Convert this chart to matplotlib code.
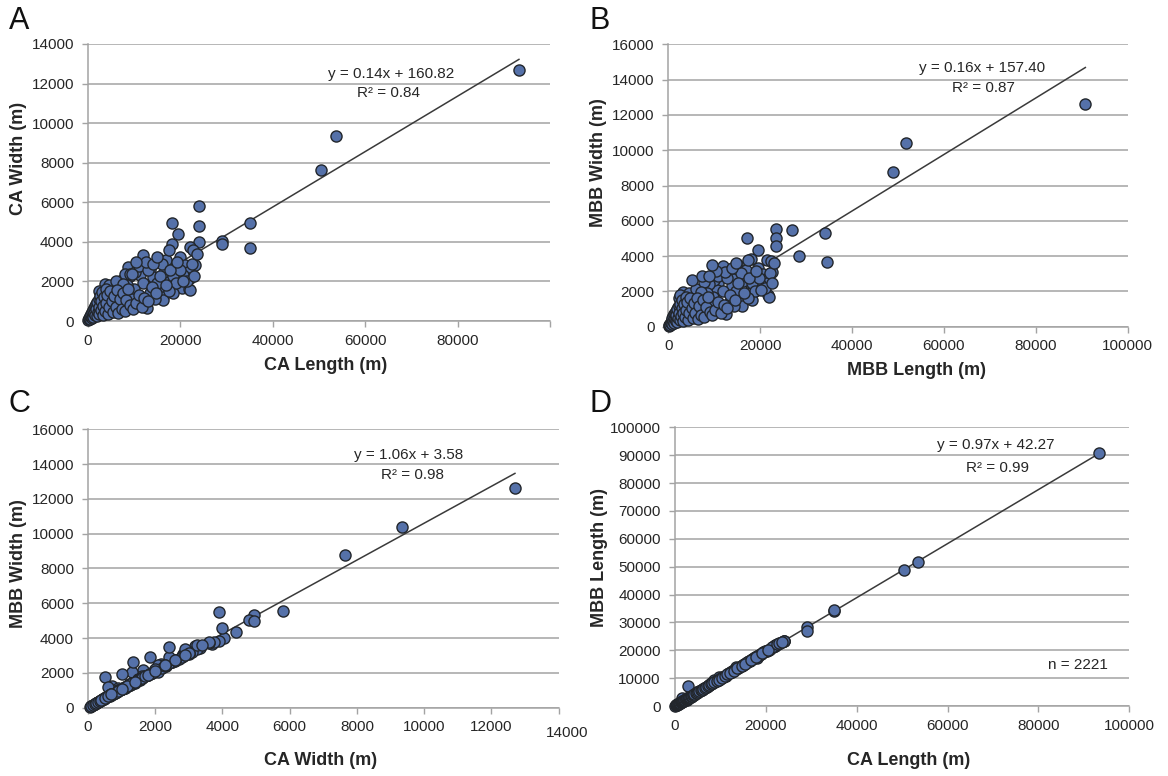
import matplotlib
matplotlib.use("Agg")
import matplotlib.pyplot as plt
from matplotlib.transforms import ScaledTranslation

plt.rcParams['font.family'] = ['Liberation Sans', 'DejaVu Sans']

# ---- data: one entry per feature (CA = convex area, MBB = minimum bounding box) ----
ca_length = [93300, 50500, 53600, 35000, 35000, 29000, 29000, 24100, 24000, 24000,
             18100, 19500, 18100,
             22080, 22800, 11840, 15220, 19900, 21000, 23160, 21700, 22080, 20280,
             21930, 17750, 15580, 13420, 11250, 8730, 7290, 3680, 6210, 9800, 13420,
             16300, 12340, 8010, 2600, 1880, 4760, 10170, 22080, 18460, 16300, 20630,
             7640, 4040, 12700, 19000, 17000, 14000, 16500, 12000, 10000, 9000, 7000,
             5500, 4500, 6000, 8000, 11000, 13000, 15000, 18500, 20000, 14500, 11000,
             9500, 8500, 6500, 5000, 3000, 2500, 3500, 16000, 12500, 10500, 21500,
             19000, 17500,
             2200, 3000, 5000, 7500, 9000, 9500, 14000, 15000, 17500, 1500,
             100, 200, 300, 400, 500, 600, 700, 800, 900, 1000, 1100, 1200, 1300,
             1400, 1500, 1600, 1700, 1800, 1900, 2000, 2100, 2300, 2400, 2500, 2600,
             2800, 2900, 3100, 3200, 3300, 3500, 3700, 3800, 4000, 4200, 4300, 4600,
             4800, 5200, 5400, 5700, 6000, 6300, 6600, 6900, 7300, 7600, 8000, 8300,
             8700, 9200, 9700, 10400, 11000, 11600, 12200, 13000, 13800, 14700,
             15500, 16800, 17800, 19300, 20500, 22500, 23000, 23500]
ca_width = [12700, 7650, 9350, 4950, 3700, 4050, 3900, 5800, 4800, 4000,
            4950, 4400, 3900,
            3755, 3590, 3336, 3170, 3250, 2830, 2830, 2490, 2160, 1650,
            1617, 2070, 1560, 2580, 2325, 2710, 2070, 1870, 1230, 1314, 1400,
            1230, 810, 725, 895, 472, 472, 2490, 1567, 1400, 1060, 2325,
            810, 470, 640, 2800, 3100, 2200, 2500, 1900, 1600, 2300, 1700,
            1500, 1800, 2000, 2400, 2800, 2600, 1900, 2300, 2600, 1100, 1000,
            1100, 1800, 900, 1100, 1300, 1500, 900, 2900, 3000, 3000, 2000,
            1900, 1500,
            500, 1000, 1350, 1850, 2400, 2400, 2900, 3250, 3600, 600,
            50, 80, 150, 100, 250, 200, 350, 150, 450, 300, 550, 200, 650,
            400, 750, 300, 850, 600, 250, 950, 450, 1100, 700, 350, 1250,
            550, 1000, 1450, 300, 750, 1200, 500, 1600, 900, 1300, 350, 700,
            1500, 1000, 450, 1250, 700, 1550, 400, 1100, 600, 1400, 500, 1050,
            1600, 800, 600, 900, 1300, 700, 1150, 1000, 1700, 1400,
            2300, 1800, 2600, 3000, 2000, 2900, 2300, 3400]
mbb_length = [90800, 48800, 51800, 34000, 34500, 28500, 27000, 23500, 23500, 23500,
              17200, 19500, 18000,
              21500, 22400, 11800, 15000, 19600, 20500, 22600, 21200, 21400, 19900,
              21700, 17700, 15500, 14100, 10800, 9400, 7230, 3220, 6100, 10500, 13400,
              16000, 12310, 8320, 2130, 1800, 4500, 10000, 21800, 18200, 16100, 20000,
              7500, 3960, 12500, 18800, 16800, 13800, 16300, 11800, 9800, 8800, 6900,
              5400, 4400, 5900, 7800, 10800, 12800, 14800, 18300, 19700, 14300, 10800,
              9300, 8300, 6300, 4900, 2900, 2400, 3400, 15800, 12300, 10300, 21000,
              18800, 17300,
              2500, 7000, 5100, 7400, 8800, 9400, 13800, 14800, 17300, 3000,
              100, 190, 290, 390, 480, 580, 680, 780, 870, 970, 1070, 1160, 1260,
              1350, 1450, 1550, 1650, 1750, 1850, 1950, 2050, 2250, 2350, 2420, 2550,
              2720, 2850, 3050, 3100, 3200, 3450, 3600, 3750, 3900, 4100, 4200, 4500,
              4700, 5100, 5300, 5600, 5850, 6200, 6450, 6750, 7150, 7450, 7850, 8150,
              8550, 9000, 9500, 10200, 10800, 11400, 12000, 12700, 13500, 14400,
              15200, 16500, 17500, 19000, 20100, 22100, 22600, 23000]
mbb_width = [12600, 8750, 10400, 5300, 3650, 4000, 5500, 5550, 5050, 4600,
             5000, 4350, 3850,
             3800, 3700, 3440, 3550, 3350, 3000, 3100, 2700, 2500, 2176,
             1800, 2460, 1620, 2690, 2450, 2800, 2080, 1983, 1300, 2080, 1420,
             1350, 850, 1230, 1133, 550, 520, 2650, 1700, 1500, 1150, 2400,
             900, 500, 700, 3000, 3200, 2300, 2600, 2000, 1700, 2400, 1800,
             1600, 1900, 2150, 2550, 2900, 2750, 2000, 2450, 2750, 1200, 1100,
             1150, 1900, 1000, 1200, 1400, 1650, 1000, 3050, 3100, 3150, 2200,
             2000, 1600,
             1780, 1940, 2640, 2900, 2900, 3500, 3350, 3600, 3800, 1200,
             60, 90, 160, 110, 270, 220, 380, 170, 480, 330, 590, 220, 700,
             430, 800, 330, 900, 650, 280, 1000, 490, 1150, 750, 380, 1300,
             600, 1060, 1520, 330, 800, 1260, 540, 1700, 960, 1380, 380, 760,
             1600, 1070, 490, 1330, 760, 1650, 440, 1180, 650, 1500, 550, 1130,
             1700, 860, 650, 970, 1400, 760, 1230, 1080, 1800, 1500,
             2450, 1900, 2750, 3150, 2100, 3050, 2450, 3600]

# panel texts and fitted trend lines (as printed on the chart)
panel_letters = ["A", "B", "C", "D"]
x_labels = ["CA Length (m)", "MBB Length (m)", "CA Width (m)", "CA Length (m)"]
y_labels = ["CA Width (m)", "MBB Width (m)", "MBB Width (m)", "MBB Length (m)"]
slopes = [0.14, 0.16, 1.06, 0.97]
intercepts = [160.82, 157.40, 3.58, 42.27]
r_squared = ["0.84", "0.87", "0.98", "0.99"]
n_text = "n = 2221"

x_ticks = [[0, 20000, 40000, 60000, 80000, 100000],
           [0, 20000, 40000, 60000, 80000, 100000],
           [0, 2000, 4000, 6000, 8000, 10000, 12000, 14000],
           [0, 20000, 40000, 60000, 80000, 100000]]
x_tick_labels = [["0", "20000", "40000", "60000", "80000", ""],
                 ["0", "20000", "40000", "60000", "80000", "100000"],
                 ["0", "2000", "4000", "6000", "8000", "10000", "12000", "14000"],
                 ["0", "20000", "40000", "60000", "80000", "100000"]]
y_ticks = [list(range(0, 14001, 2000)),
           list(range(0, 16001, 2000)),
           list(range(0, 16001, 2000)),
           list(range(0, 100001, 10000))]

panel_xy = [(ca_length, ca_width), (mbb_length, mbb_width),
            (ca_width, mbb_width), (ca_length, mbb_length)]

# ---- layout ----
fig = plt.figure(figsize=(11.68, 7.76), dpi=100)
axes_rects = [[0.0753, 0.5863, 0.3955, 0.3570],
              [0.5723, 0.5790, 0.3931, 0.3639],
              [0.0753, 0.0880, 0.4030, 0.3588],
              [0.5777, 0.0902, 0.3892, 0.3592]]
xlabel_pos = [(0.515, -0.162), (0.540, -0.155), (0.494, -0.188), (0.515, -0.194)]
ylabel_pos = [(-0.150, 0.588), (-0.152, 0.583), (-0.147, 0.518), (-0.166, 0.531)]
eq_pos = [((65700, 12500), (65000, 11530)),
          ((68200, 14640), (68700, 13500)),
          ((9540, 14520), (9650, 13375)),
          ((70700, 93660), (71100, 85290))]
letter_pos = [(9, 21), (589, 21), (9, 404), (589, 404)]

grid_col = "#a3a3a3"
text_col = "#262626"
face_col = "#5571a9"
edge_col = "#22262b"

for i in range(4):
    ax = fig.add_axes(axes_rects[i])
    xs, ys = panel_xy[i]
    ax.scatter(xs, ys, s=64, facecolor=face_col, edgecolor=edge_col,
               linewidth=1.0, zorder=3, clip_on=False)
    x0, x1 = 0, max(xs)
    ax.plot([x0, x1], [slopes[i] * x0 + intercepts[i], slopes[i] * x1 + intercepts[i]],
            color="#3a3a3a", lw=1.1, zorder=2)

    ax.set_xlim(x_ticks[i][0], x_ticks[i][-1])
    ax.set_ylim(y_ticks[i][0], y_ticks[i][-1])
    ax.set_xticks(x_ticks[i])
    ax.set_xticklabels(x_tick_labels[i])
    ax.set_yticks(y_ticks[i])
    ax.set_yticklabels([str(v) for v in y_ticks[i]])
    ax.grid(axis="y", color=grid_col, lw=1.1, zorder=0)
    ax.set_axisbelow(True)
    for s in ["top", "right"]:
        ax.spines[s].set_visible(False)
    for s in ["left", "bottom"]:
        ax.spines[s].set_color(grid_col)
        ax.spines[s].set_linewidth(1.1)
    ax.tick_params(axis="both", colors=grid_col, labelcolor=text_col,
                   labelsize=11, length=4, width=1.0, direction="out")
    ax.tick_params(axis="x", pad=5)
    ax.tick_params(axis="y", pad=6)

    ax.set_xlabel(x_labels[i], fontsize=13, fontweight="bold", color=text_col)
    ax.set_ylabel(y_labels[i], fontsize=13, fontweight="bold", color=text_col)
    ax.xaxis.set_label_coords(*xlabel_pos[i])
    ax.yaxis.set_label_coords(*ylabel_pos[i])
    ax.xaxis.label.set_va("center")
    ax.yaxis.label.set_va("center")

    (ex, ey), (rx, ry) = eq_pos[i]
    sign = "+" if intercepts[i] >= 0 else "-"
    ax.text(ex, ey, f"y = {slopes[i]:.2f}x {sign} {abs(intercepts[i]):.2f}",
            ha="center", va="center", fontsize=11, color=text_col)
    ax.text(rx, ry, f"R² = {r_squared[i]}", ha="center", va="center",
            fontsize=11, color=text_col)
    if i == 3:
        ax.text(88700, 14700, n_text, ha="center", va="center",
                fontsize=11, color=text_col)
    if i == 2:
        lbl = ax.get_xticklabels()[-1]
        lbl.set_transform(lbl.get_transform() +
                          ScaledTranslation(6 / 72, -4 / 72, fig.dpi_scale_trans))

    lx, ly = letter_pos[i]
    fig.text(lx / 1168, 1 - ly / 776, panel_letters[i], fontsize=22,
             ha="left", va="center", color="#111111")

fig.savefig("out.png", dpi=100)
